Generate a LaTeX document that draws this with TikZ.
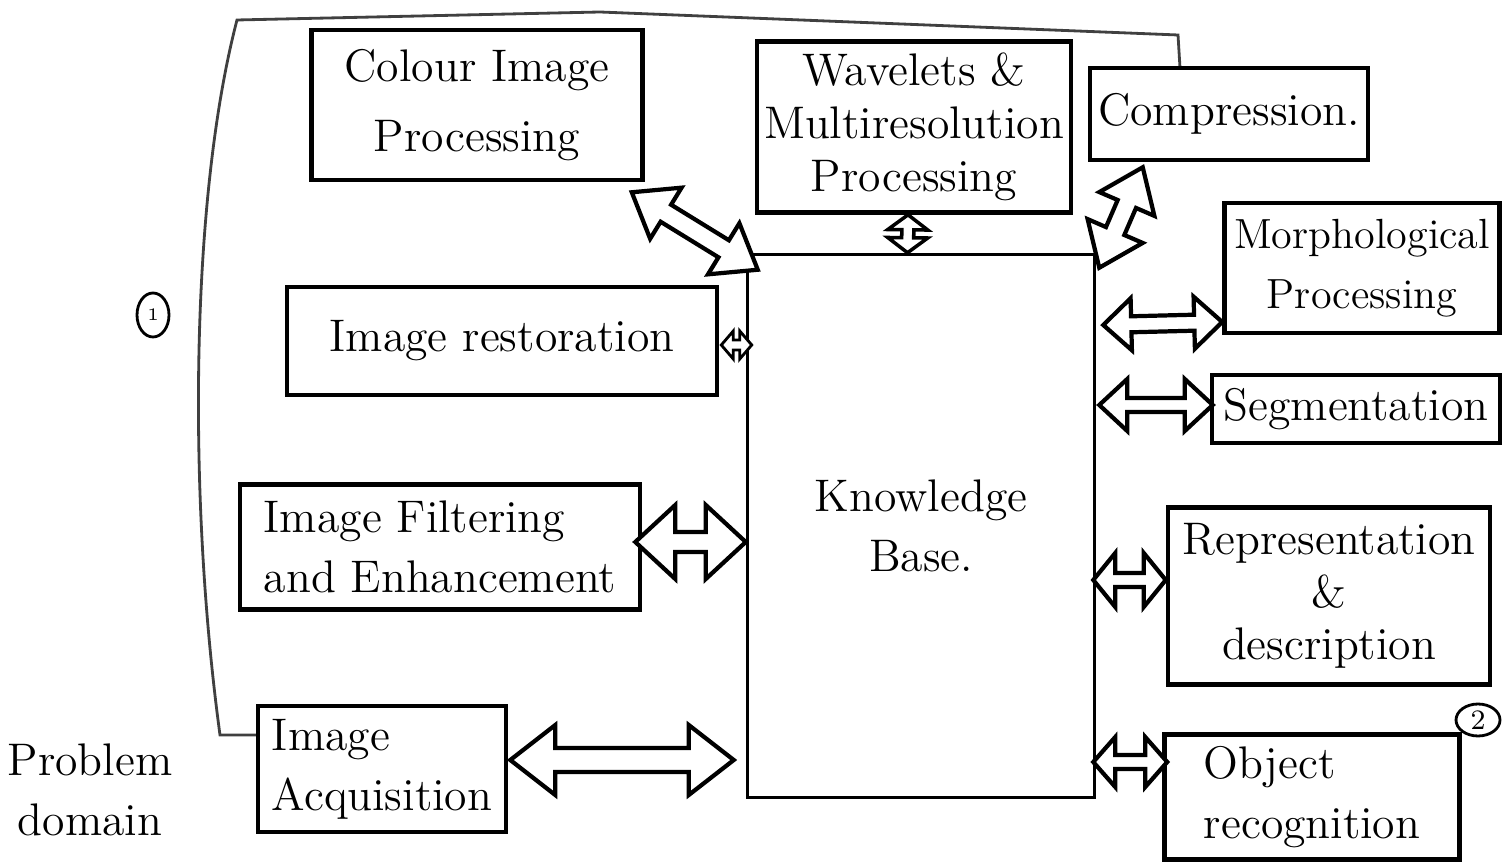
\documentclass[tikz,border=0pt]{standalone}
\usepackage{tikz}
\usetikzlibrary{positioning,calc,shapes.geometric}

\tikzset{
  head len/.store in=\hdlen,
  head wid/.store in=\hdwid,
  shaft wid/.store in=\shwid,
  head len=4mm, head wid=3.5mm, shaft wid=1.2mm,
  blk/.style={draw, line width=1.3pt, align=center, inner sep=2pt,
    font=\fontsize{13}{17}\selectfont},
  encl/.style={draw=black!75, line width=0.8pt},
  circ/.style={draw, ellipse, line width=0.8pt, inner sep=0pt},
  % hollow two-headed arrow between two points
  hollow/.style={draw, line width=1.2pt, fill=white, line join=miter,
    to path={let \p1=(\tikztostart), \p2=(\tikztotarget),
      \n1={atan2(\y2-\y1,\x2-\x1)} in
      (\p1) -- ($(\p1)+(\n1:\hdlen)+(\n1+90:\hdwid)$)
      -- ($(\p1)+(\n1:\hdlen)+(\n1+90:\shwid)$)
      -- ($(\p2)+(\n1+180:\hdlen)+(\n1+90:\shwid)$)
      -- ($(\p2)+(\n1+180:\hdlen)+(\n1+90:\hdwid)$)
      -- (\p2)
      -- ($(\p2)+(\n1+180:\hdlen)+(\n1-90:\hdwid)$)
      -- ($(\p2)+(\n1+180:\hdlen)+(\n1-90:\shwid)$)
      -- ($(\p1)+(\n1:\hdlen)+(\n1-90:\shwid)$)
      -- ($(\p1)+(\n1:\hdlen)+(\n1-90:\hdwid)$)
      -- cycle}}
}

\begin{document}
\begin{tikzpicture}[x=0.1mm,y=-0.1mm]
\useasboundingbox (0,0) rectangle (1509,863);

% Problem domain enclosure
\draw[encl] (258,735) -- (220,735) .. controls (188,500) and (190,200) .. (237,20)
  -- (600,12) -- (1178,35) -- (1180,68);

% Knowledge base
\node[blk, line width=1pt, minimum width=34.7mm, minimum height=54.3mm] (kb) at (921,526) {Knowledge\\Base.};

% Left column
\node[blk, minimum width=33.1mm, minimum height=15mm] (colour) at (477,105) {Colour Image\\[1mm]Processing};
\node[blk, minimum width=43mm, minimum height=10.8mm] (rest) at (502,341) {Image restoration};
\node[blk, minimum width=40mm, minimum height=12.5mm, align=left] (filt) at (440,547) {Image Filtering\\and Enhancement};
\node[blk, minimum width=24.8mm, minimum height=12.6mm, align=left] (acq) at (382,769) {Image\\Acquisition};

% Top
\node[blk, minimum width=30.8mm, minimum height=17.1mm, font=\fontsize{13}{15}\selectfont] (wave) at (914,127) {Wavelets \&\\Multiresolution\\Processing};
\node[blk, minimum width=27.8mm, minimum height=9.2mm] (comp) at (1229,114) {Compression.};

% Right column
\node[blk, minimum width=27.5mm, minimum height=13mm, font=\fontsize{12}{17}\selectfont] (morph) at (1362,268) {Morphological\\Processing};
\node[blk, minimum width=28.8mm, minimum height=6.8mm] (seg) at (1356,409) {Segmentation};
\node[blk, minimum width=32.2mm, minimum height=17.7mm, font=\fontsize{13}{15}\selectfont] (rep) at (1329,596) {Representation\\\&\\description};
\node[blk, minimum width=29.5mm, minimum height=12.5mm, align=left] (obj) at (1312,797) {Object\\recognition};

% Labels
\node[font=\fontsize{13}{17}\selectfont, align=center] (domain) at (90,790) {Problem\\domain};
\node[circ, minimum width=3.2mm, minimum height=4.4mm, font=\tiny] (one) at (153,315) {1};
\node[circ, minimum width=4.4mm, minimum height=3.2mm, font=\footnotesize] (two) at (1478,720) {2};

% Arrows to the knowledge base
\draw[hollow, head len=4mm, head wid=3mm, shaft wid=1mm]
  ([shift={(-13,10)}]colour.south east) to ([shift={(12,17)}]kb.north west);
\draw[hollow, line width=1pt, head len=1.5mm, head wid=2mm, shaft wid=0.6mm]
  ([xshift=-0.6mm]wave.south) to ([xshift=-1.35mm]kb.north);
\draw[hollow, head len=4mm, head wid=3mm, shaft wid=1mm]
  ([shift={(55,5)}]comp.south west) to ([shift={(3,15)}]kb.north east);
\draw[hollow, line width=0.8pt, head len=1.2mm, head wid=1.4mm, shaft wid=0.5mm]
  ([shift={(2,4)}]rest.east) to ($(kb.west |- rest.east)+(6,4)$);
\draw[hollow, head len=4mm, head wid=3.7mm, shaft wid=1mm]
  ([shift={(-7,-5)}]filt.east) to ($(kb.west |- filt.east)+(0,-5)$);
\draw[hollow, head len=4.5mm, head wid=3.5mm, shaft wid=1.2mm]
  ([shift={(2,-9)}]acq.east) to ($(kb.west |- acq.east)+(-12,-9)$);
\draw[hollow, head len=2.8mm, head wid=2.6mm, shaft wid=0.8mm]
  ($(kb.east |- morph.west)+(7,57)$) to ($(morph.west)+(0,54)$);
\draw[hollow, head len=2.8mm, head wid=2.6mm, shaft wid=0.7mm]
  ($(kb.east |- seg.west)+(3,-4)$) to ($(seg.west)+(3,-4)$);
\draw[hollow, head len=2.2mm, head wid=2.7mm, shaft wid=0.7mm]
  ($(kb.east |- rep.west)+(-3,-16)$) to ($(rep.west)+(0,-16)$);
\draw[hollow, head len=2.2mm, head wid=2.5mm, shaft wid=0.7mm]
  ($(kb.east |- obj.west)+(-3,-35)$) to ($(obj.west)+(5,-35)$);
\end{tikzpicture}
\end{document}
